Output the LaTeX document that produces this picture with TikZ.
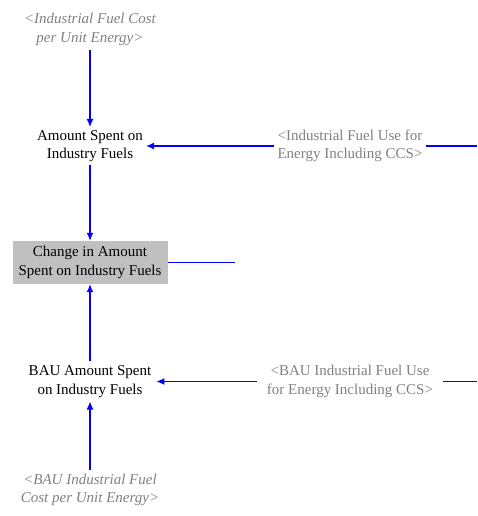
\documentclass[tikz,border=0pt]{standalone}
\usepackage{fontspec}
\setmainfont{Liberation Serif}
\usetikzlibrary{arrows.meta}
\definecolor{shadowgrey}{RGB}{128,128,128}
\definecolor{boxgrey}{RGB}{192,192,192}
\definecolor{linkblue}{RGB}{0,0,255}
\begin{document}
\begin{tikzpicture}[x=1pt,y=-1pt,
  every node/.style={font=\fontsize{15}{18.5}\selectfont, align=center, inner sep=4pt},
  var/.style={text=black},
  shadow/.style={text=shadowgrey, inner xsep=3pt},
  level/.style={fill=boxgrey, minimum width=155pt, minimum height=43pt, inner sep=0pt},
  link/.style={draw=linkblue, line width=1.2pt, -{Latex[length=8pt,width=7pt]}},
  stub/.style={draw=linkblue, line width=1.2pt}]
\useasboundingbox (0,0) rectangle (477,516);
\node[shadow, font=\fontsize{15}{18.5}\selectfont\itshape] (cost) at (90,29.5) {<Industrial Fuel Cost\\per Unit Energy>};
\node[var, inner xsep=3pt, inner ysep=3pt] (amt) at (90,146) {Amount Spent on\\Industry Fuels};
\node[shadow] (use) at (350,146) {<Industrial Fuel Use for\\Energy Including CCS>};
\node[level] (chg) at (90,262.5) {Change in Amount\\Spent on Industry Fuels};
\node[var, inner xsep=5pt] (bau) at (90,381.5) {BAU Amount Spent\\on Industry Fuels};
\node[shadow, inner xsep=10pt] (bauuse) at (350,381.5) {<BAU Industrial Fuel Use\\for Energy Including CCS>};
\node[shadow, font=\fontsize{15}{18.5}\selectfont\itshape] (baucost) at (90,490) {<BAU Industrial Fuel\\Cost per Unit Energy>};
\coordinate (e1) at (477,146);
\coordinate (e2) at (235,263);
\coordinate (e3) at (477,381.5);
\draw[link] (cost.south) -- (amt.north);
\draw[link] (use.west) -- (use.west -| amt.east);
\draw[stub] (use.east) -- (e1);
\draw[link] (amt.south) -- (chg.north);
\draw[stub] (chg.east) -- (chg.east -| e2);
\draw[link] (bau.north) -- (chg.south);
\draw[link] (bauuse.west) -- (bauuse.west -| bau.east);
\draw[stub] (bauuse.east) -- (e3);
\draw[link] (baucost.north) -- (bau.south);
\end{tikzpicture}
\end{document}
